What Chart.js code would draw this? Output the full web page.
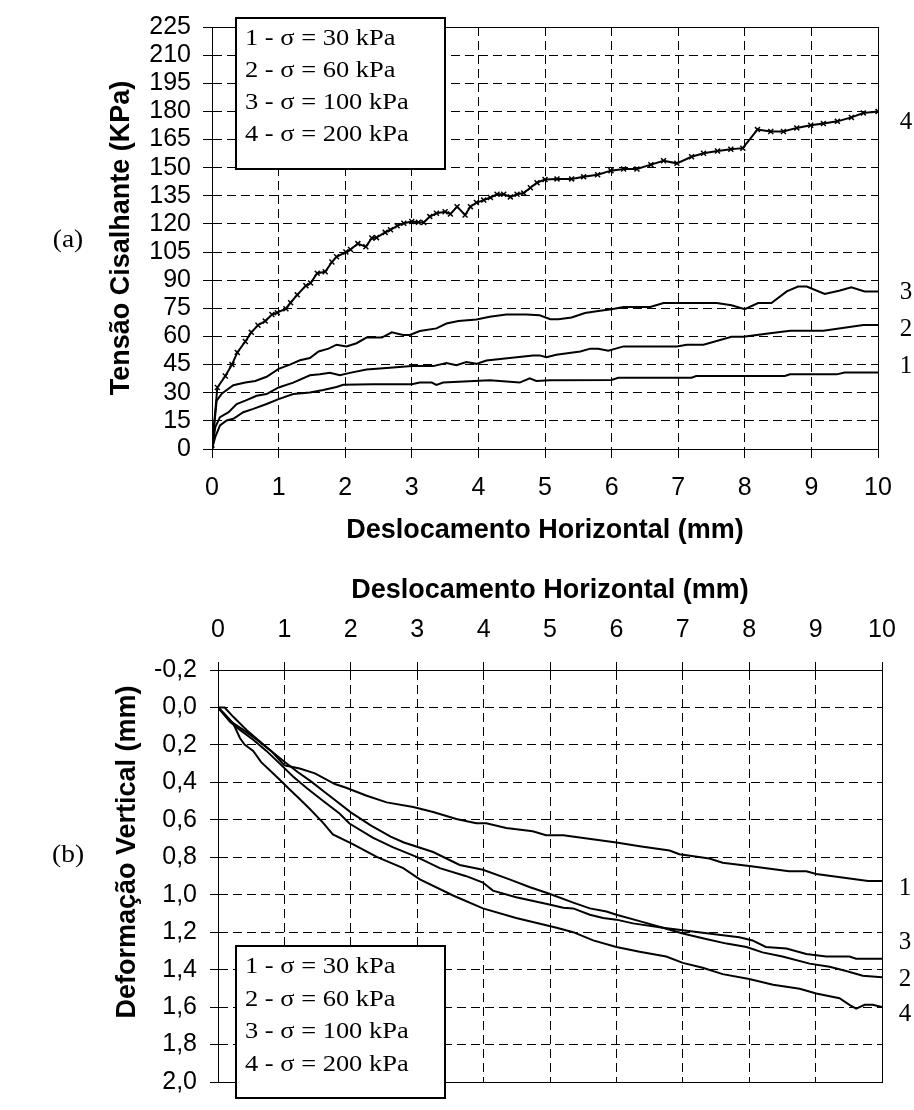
<!DOCTYPE html>
<html>
<head>
<meta charset="utf-8">
<script src="https://cdn.jsdelivr.net/npm/chart.js@4.4.0/dist/chart.umd.min.js"></script>
<style>
  html, body { margin: 0; padding: 0; background: #fff; width: 914px; height: 1110px; overflow: hidden; }
  canvas { position: absolute; left: 0; }
  #shear { top: 0; }
  #vert { top: 560px; }
</style>
</head>
<body>
<canvas id="shear" width="914" height="560"></canvas>
<canvas id="vert" width="914" height="550"></canvas>
<script>
// ---- series names ----
const seriesNames = ['1 - σ = 30 kPa', '2 - σ = 60 kPa', '3 - σ = 100 kPa', '4 - σ = 200 kPa'];
const curveTags = ['1', '2', '3', '4'];

// ---- (a) shear stress (kPa) vs horizontal displacement (mm) ----
const dispA1 = [0,0.05,0.12,0.22,0.32,0.47,0.62,0.82,1.0,1.22,1.47,1.67,1.87,1.97,2.42,3.0,3.12,3.3,3.37,3.47,4.17,4.62,4.77,4.87,5.08,6.0,6.1,7.2,7.27,8.6,8.68,9.38,9.5,10];
const tauA1  = [0,6.5,12.6,15.2,16.1,19.6,21.4,24,26.6,29.3,30.1,31.5,33.1,34.2,34.5,34.5,35.4,35.4,34.2,35.4,36.6,35.4,37.7,36.3,36.6,36.8,38,38,38.9,38.9,39.8,39.8,40.8,40.8];

const dispA2 = [0,0.05,0.12,0.25,0.37,0.5,0.67,0.82,1.0,1.22,1.47,1.62,1.77,1.92,2.07,2.32,2.67,3.0,3.32,3.52,3.67,3.82,3.97,4.12,4.47,4.82,4.92,5.02,5.17,5.53,5.68,5.8,5.95,6.18,6.98,7.13,7.38,7.8,7.98,8.38,8.68,9.18,9.78,10];
const tauA2  = [0,11.7,17,19.6,24,25.8,28.4,29.3,32.8,35.4,39.3,39.8,40.6,39.3,40.6,42.4,43.3,44.2,44.2,45.9,44.7,46.4,45.4,47.2,48.5,49.9,49.9,48.9,50.3,52,53.5,53.5,52.4,54.7,54.7,55.6,55.6,59.8,59.8,61.7,63.1,63.1,66.1,66.1];

const dispA3 = [0,0.03,0.07,0.15,0.32,0.5,0.65,0.82,1.0,1.17,1.32,1.47,1.6,1.75,1.87,2.02,2.17,2.32,2.55,2.7,2.87,2.97,3.12,3.37,3.52,3.7,3.97,4.17,4.42,4.72,4.92,5.08,5.2,5.4,5.6,5.8,6.0,6.18,6.58,6.78,7.58,7.8,8.0,8.2,8.4,8.63,8.8,8.93,9.2,9.43,9.6,9.8,10];
const tauA3  = [0,11.7,25.8,29.6,34,35.4,36.3,38.5,42.7,45,47.3,48.5,52,53.5,55.6,54.7,56.4,59.4,59.4,62.2,60.8,60.8,62.9,64.3,66.9,68.2,69,70.5,71.7,71.7,71.3,69.2,69.2,70.1,72.5,73.6,74.5,75.7,75.7,77.8,77.8,76.6,74.5,77.8,77.8,84,86.6,86.6,82.7,84.5,86.2,84,84];

const dispA4 = [0,0.08,0.2,0.3,0.38,0.5,0.59,0.69,0.8,0.9,0.98,1.11,1.18,1.28,1.41,1.48,1.58,1.7,1.8,1.87,2.01,2.08,2.19,2.31,2.4,2.47,2.6,2.68,2.78,2.88,3.0,3.1,3.18,3.27,3.37,3.5,3.58,3.68,3.8,3.88,3.97,4.08,4.18,4.28,4.38,4.48,4.58,4.68,4.78,4.88,5.0,5.18,5.4,5.58,5.79,5.99,6.18,6.38,6.59,6.78,6.98,7.2,7.38,7.59,7.79,7.97,8.19,8.39,8.58,8.78,8.99,9.18,9.39,9.6,9.78,10];
const tauA4  = [0,32.8,38.9,45,51.5,57.3,62.2,66,68.2,71.7,72.7,74.8,78,82.2,87.1,88.5,93.7,94.5,99.7,102.5,105,106.4,109.5,107.8,112.5,112.7,115.5,116.9,119,120.4,121.3,120.9,120.8,123.9,125.7,126.5,125.3,129.2,124.8,129.2,131.4,132.7,134.1,135.8,135.8,134.4,135.8,136.5,139.3,142,143.7,144,144,145.1,146.2,148.4,149.3,149.3,151.6,153.7,152.3,155.8,157.7,158.9,159.8,160.4,170.3,169.3,169.3,171.2,172.6,173.5,174.7,176.8,179.1,180];

// ---- (b) vertical deformation (mm) vs horizontal displacement (mm) ----
const dispB1 = [0,0.2,0.38,0.55,0.8,1.0,1.23,1.46,1.76,1.93,2.23,2.54,2.94,3.24,3.59,3.89,4.04,4.34,4.74,4.94,5.2,6.0,6.35,6.8,6.95,7.4,7.6,8.0,8.6,8.86,9.01,9.79,10];
const defB1  = [0,0.077,0.12,0.163,0.232,0.309,0.326,0.352,0.409,0.429,0.47,0.507,0.532,0.558,0.596,0.618,0.618,0.644,0.661,0.682,0.682,0.721,0.741,0.764,0.784,0.807,0.829,0.846,0.875,0.875,0.889,0.927,0.927];

const dispB2 = [0,0.1,0.23,0.43,0.6,0.8,1.0,1.2,1.4,1.6,1.8,2.0,2.3,2.6,2.8,3.24,3.64,3.99,4.39,4.7,4.99,5.35,5.6,5.85,6.0,6.35,6.7,7.0,7.35,7.66,7.96,8.2,8.5,8.91,9.21,9.46,9.71,10];
const defB2  = [0,0,0.05,0.12,0.172,0.232,0.29,0.345,0.395,0.45,0.505,0.56,0.63,0.69,0.721,0.772,0.841,0.867,0.918,0.96,0.995,1.042,1.073,1.09,1.107,1.141,1.176,1.207,1.236,1.261,1.279,1.308,1.33,1.368,1.385,1.407,1.433,1.441];

const dispB3 = [0,0.18,0.33,0.53,0.73,0.93,1.13,1.33,1.58,1.83,1.98,2.33,2.63,2.99,3.34,3.74,3.99,4.14,4.49,4.99,5.2,5.35,5.6,5.8,6.0,6.25,6.7,7.0,7.45,7.85,8.05,8.25,8.56,8.86,9.16,9.51,9.61,10];
const defB3  = [0,0.077,0.12,0.172,0.232,0.3,0.369,0.429,0.498,0.566,0.62,0.695,0.746,0.798,0.858,0.901,0.935,0.978,1.013,1.052,1.069,1.073,1.107,1.124,1.133,1.153,1.176,1.19,1.21,1.227,1.244,1.279,1.287,1.316,1.33,1.33,1.342,1.342];

const dispB4 = [0,0.1,0.23,0.33,0.4,0.53,0.65,0.78,0.93,1.08,1.23,1.38,1.58,1.73,2.03,2.39,2.79,3.04,3.54,3.99,4.49,4.99,5.1,5.35,5.65,6.0,6.35,6.75,7.0,7.3,7.6,8.0,8.36,8.76,9.01,9.36,9.51,9.61,9.74,9.86,10];
const defB4  = [0,0.034,0.086,0.163,0.198,0.232,0.292,0.335,0.386,0.438,0.489,0.541,0.615,0.678,0.73,0.798,0.858,0.918,1.004,1.073,1.124,1.167,1.176,1.2,1.244,1.279,1.304,1.33,1.364,1.39,1.424,1.45,1.481,1.502,1.527,1.553,1.588,1.608,1.588,1.588,1.6];

// ---- ticks ----
const dispTicks = [0,1,2,3,4,5,6,7,8,9,10];
const dispTickLabels = ['0','1','2','3','4','5','6','7','8','9','10'];
const tauTicks = [0,15,30,45,60,75,90,105,120,135,150,165,180,195,210,225];
const tauTickLabels = ['0','15','30','45','60','75','90','105','120','135','150','165','180','195','210','225'];
const defTicks = [-0.2,0,0.2,0.4,0.6,0.8,1.0,1.2,1.4,1.6,1.8,2.0];
const defTickLabels = ['-0,2','0,0','0,2','0,4','0,6','0,8','1,0','1,2','1,4','1,6','1,8','2,0'];

// curve tag heights at the right-hand edge
const tauTagLevels = [44.2, 64, 83.6, 173.9];
const defTagLevels = [0.966, 1.45, 1.253, 1.639];

// ---- helpers ----
const SANS = 'Liberation Sans, Arial, sans-serif';
const SERIF = 'Liberation Serif, Times New Roman, serif';
const pairs = (xs, ys) => xs.map((x, i) => ({x: x, y: ys[i]}));

function lineSet(label, xs, ys, marked) {
  return {
    label: label,
    data: pairs(xs, ys),
    showLine: true,
    borderColor: '#000',
    backgroundColor: '#000',
    borderWidth: 2,
    tension: 0,
    fill: false,
    pointStyle: 'crossRot',
    pointRadius: marked ? 3.5 : 0,
    pointBorderWidth: 1.5,
    pointBorderColor: '#000',
    pointHoverRadius: 0
  };
}

function fixedTicks(values) {
  return function (scale) { scale.ticks = values.map(v => ({value: v})); };
}

// serif text, slightly widened like the original text boxes
function wideText(ctx, text, x, y, sx) {
  ctx.save();
  ctx.translate(x, y);
  ctx.scale(sx, 1);
  ctx.fillText(text, 0, 0);
  ctx.restore();
}

// Frame, boxed legend, curve tags, panel letter and (optionally) a placed y-axis title
const decorations = {
  id: 'decorations',
  afterDatasetsDraw(chart, args, o) {
    const ctx = chart.ctx, a = chart.chartArea;
    ctx.save();
    ctx.setLineDash([]);
    ctx.strokeStyle = '#000';
    ctx.lineWidth = 1;
    ctx.strokeRect(a.left + 0.5, a.top + 0.5, a.right - a.left, a.bottom - a.top);

    // legend box
    const L = o.legend;
    ctx.fillStyle = '#fff';
    ctx.fillRect(L.x, L.y, L.w, L.h);
    ctx.lineWidth = 2;
    ctx.strokeRect(L.x, L.y, L.w, L.h);
    ctx.fillStyle = '#000';
    ctx.font = L.font;
    ctx.textAlign = 'left';
    ctx.textBaseline = 'middle';
    chart.data.datasets.forEach((d, i) => {
      wideText(ctx, d.label, L.x + L.pad, L.y + L.first + i * L.step, L.sx);
    });

    // curve tags
    const xs = chart.scales.x, ys = chart.scales.y;
    ctx.font = o.tagFont;
    ctx.textAlign = 'center';
    const tx = xs.getPixelForValue(10) + o.tagDx;
    curveTags.forEach((t, i) => {
      ctx.fillText(t, tx, ys.getPixelForValue(o.tagLevels[i]));
    });

    // panel letter
    ctx.font = o.panel.font;
    wideText(ctx, o.panel.text, o.panel.x, o.panel.y, 1.1);

    // rotated y-axis title
    if (o.yTitle) {
      const T = o.yTitle;
      ctx.save();
      ctx.font = T.font;
      ctx.textAlign = 'center';
      ctx.textBaseline = 'middle';
      ctx.translate(T.x, T.y);
      ctx.rotate(-Math.PI / 2);
      ctx.fillText(T.text, 0, 0);
      ctx.restore();
    }
    ctx.restore();
  }
};

function axisCommon(tickLen, pad) {
  return {
    type: 'linear',
    ticks: { color: '#000', font: { family: SANS, size: 25 }, padding: pad, maxRotation: 0, autoSkip: false },
    grid: { color: '#000', lineWidth: 1, tickLength: tickLen, tickColor: '#000', tickWidth: 1, tickBorderDash: [] },
    border: { display: true, color: '#000', width: 1, dash: [9, 5] }
  };
}

// ---- chart (a) ----
const xA = axisCommon(9, 15);
Object.assign(xA, {
  position: 'bottom', min: 0, max: 10,
  afterBuildTicks: fixedTicks(dispTicks),
  afterFit: s => { s.height = 100; },
  title: { display: true, text: 'Deslocamento Horizontal (mm)', color: '#000',
           font: { family: SANS, size: 27, weight: 'bold' }, padding: { top: 0, bottom: 2 } }
});
xA.ticks.callback = (v, i) => dispTickLabels[i];

const yA = axisCommon(9, 12);
Object.assign(yA, {
  position: 'left', min: 0, max: 225,
  afterBuildTicks: fixedTicks(tauTicks),
  afterFit: s => { s.width = 212; },
  title: { display: true, text: 'Tensão Cisalhante (KPa)', color: '#000',
           font: { family: SANS, size: 27, weight: 'bold' }, padding: { top: 105, bottom: 0 } }
});
yA.ticks.callback = (v, i) => tauTickLabels[i];

new Chart(document.getElementById('shear'), {
  type: 'scatter',
  data: {
    datasets: [
      lineSet(seriesNames[0], dispA1, tauA1, false),
      lineSet(seriesNames[1], dispA2, tauA2, false),
      lineSet(seriesNames[2], dispA3, tauA3, false),
      lineSet(seriesNames[3], dispA4, tauA4, true)
    ]
  },
  options: {
    responsive: false, animation: false, devicePixelRatio: 1,
    layout: { padding: { left: 0, right: 36, top: 21, bottom: 11 } },
    events: [],
    plugins: {
      legend: { display: false }, tooltip: { enabled: false },
      decorations: {
        legend: { x: 236, y: 18, w: 209, h: 151, pad: 9, first: 20.5, step: 32.3, font: '23px ' + SERIF, sx: 1.15 },
        tagFont: '25px ' + SERIF, tagDx: 28, tagLevels: tauTagLevels,
        panel: { text: '(a)', x: 68, y: 240, font: '25px ' + SERIF }
      }
    },
    scales: { x: xA, y: yA }
  },
  plugins: [decorations]
});

// ---- chart (b) ----
const xB = axisCommon(8, 17);
Object.assign(xB, {
  position: 'top', min: 0, max: 10,
  afterBuildTicks: fixedTicks(dispTicks),
  afterFit: s => { s.height = 110; },
  title: { display: true, text: 'Deslocamento Horizontal (mm)', color: '#000',
           font: { family: SANS, size: 27, weight: 'bold' }, padding: { top: 14, bottom: 0 } }
});
xB.ticks.callback = (v, i) => dispTickLabels[i];

const yB = axisCommon(8, 13);
Object.assign(yB, {
  position: 'left', min: -0.2, max: 2.0, reverse: true,
  afterBuildTicks: fixedTicks(defTicks),
  afterFit: s => { s.width = 218; },
  title: { display: false }
});
yB.ticks.callback = (v, i) => defTickLabels[i];

new Chart(document.getElementById('vert'), {
  type: 'scatter',
  data: {
    datasets: [
      lineSet(seriesNames[0], dispB1, defB1, false),
      lineSet(seriesNames[1], dispB2, defB2, false),
      lineSet(seriesNames[2], dispB3, defB3, false),
      lineSet(seriesNames[3], dispB4, defB4, false)
    ]
  },
  options: {
    responsive: false, animation: false, devicePixelRatio: 1,
    layout: { padding: { left: 0, right: 32, top: 0, bottom: 12.5 } },
    events: [],
    plugins: {
      legend: { display: false }, tooltip: { enabled: false },
      decorations: {
        legend: { x: 236, y: 386, w: 209, h: 152, pad: 9, first: 20.7, step: 32.8, font: '23px ' + SERIF, sx: 1.15 },
        tagFont: '25px ' + SERIF, tagDx: 23, tagLevels: defTagLevels,
        panel: { text: '(b)', x: 68, y: 295, font: '25px ' + SERIF },
        yTitle: { text: 'Deformação Vertical (mm)', x: 128, y: 292, font: 'bold 27px ' + SANS }
      }
    },
    scales: { x: xB, y: yB }
  },
  plugins: [decorations]
});
</script>
</body>
</html>
